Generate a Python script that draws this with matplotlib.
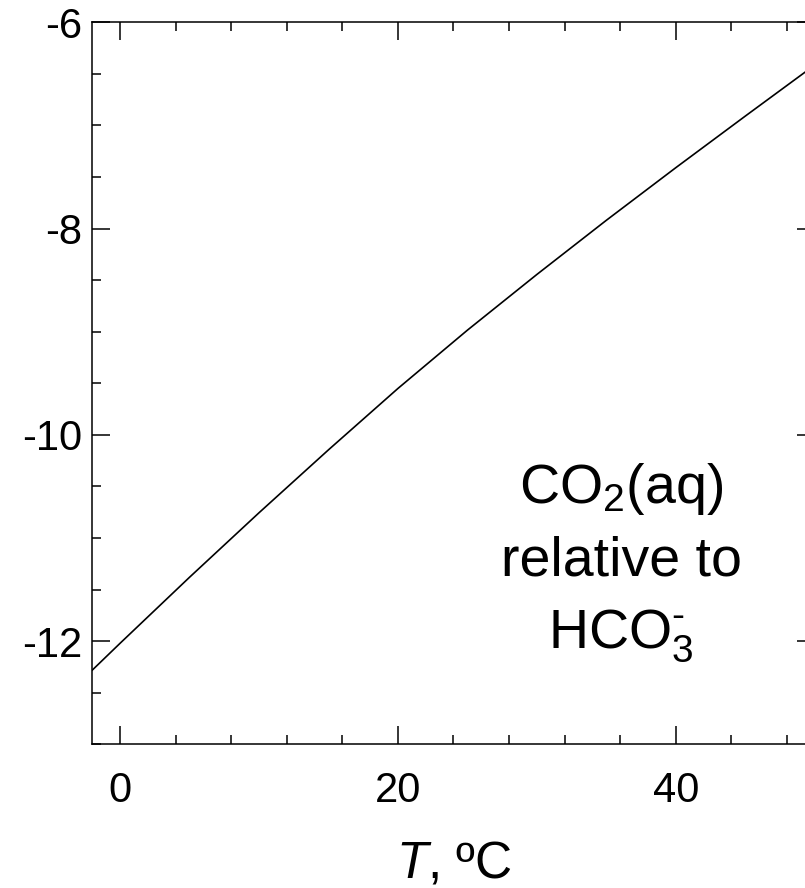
"""
plot.py — CO2(aq) relative to HCO3- as a function of temperature.
"""

import matplotlib
matplotlib.use("Agg")
import matplotlib.pyplot as plt
from matplotlib.ticker import MultipleLocator

# ── Data ──────────────────────────────────────────────────────────────────────
temperature = [-2, 0, 5, 10, 15, 20, 25, 30, 35, 40, 45, 50]
log_value = [-12.28, -12.02, -11.38, -10.755, -10.145, -9.55,
             -8.985, -8.445, -7.92, -7.41, -6.91, -6.415]

x_ticks = [0, 20, 40]
y_ticks = [-12, -10, -8, -6]

# ── Style ─────────────────────────────────────────────────────────────────────
plt.rcParams["font.family"] = ["Liberation Sans", "DejaVu Sans"]
plt.rcParams["mathtext.fontset"] = "custom"
plt.rcParams["mathtext.rm"] = "Liberation Sans"
plt.rcParams["mathtext.it"] = "Liberation Sans:italic"
plt.rcParams["axes.unicode_minus"] = False

fig = plt.figure(figsize=(8.05, 8.88), dpi=100)
ax = fig.add_axes([0.1147, 0.1618, 0.8973, 0.8131])

ax.plot(temperature, log_value, color="black", lw=1.2)

ax.set_xlim(-2, 50)
ax.set_ylim(-13, -6)
ax.set_xticks(x_ticks)
ax.set_yticks(y_ticks)
ax.set_yticklabels([str(v) for v in y_ticks])
ax.xaxis.set_minor_locator(MultipleLocator(4))
ax.yaxis.set_minor_locator(MultipleLocator(0.5))

for side in ax.spines.values():
    side.set_linewidth(1.1)
ax.tick_params(which="both", direction="in", top=True, right=True, width=1.1)
ax.tick_params(which="major", length=13)
ax.tick_params(which="minor", length=6.5)
ax.tick_params(axis="x", labelsize=30, pad=19)
ax.tick_params(axis="y", labelsize=30, pad=7)

ax.set_xlabel(r"$T$, ºC", fontsize=37, labelpad=21)

# ── Annotation ────────────────────────────────────────────────────────────────
tx = 36.07
ax.text(tx, -10.664, r"CO$_2$(aq)", fontsize=40, ha="center", va="baseline")
ax.text(tx, -11.362, "relative to", fontsize=40, ha="center", va="baseline")
ax.text(tx, -12.058, r"HCO$_3^{\text{-}}$", fontsize=40, ha="center", va="baseline")

fig.savefig("out.png", dpi=100)
